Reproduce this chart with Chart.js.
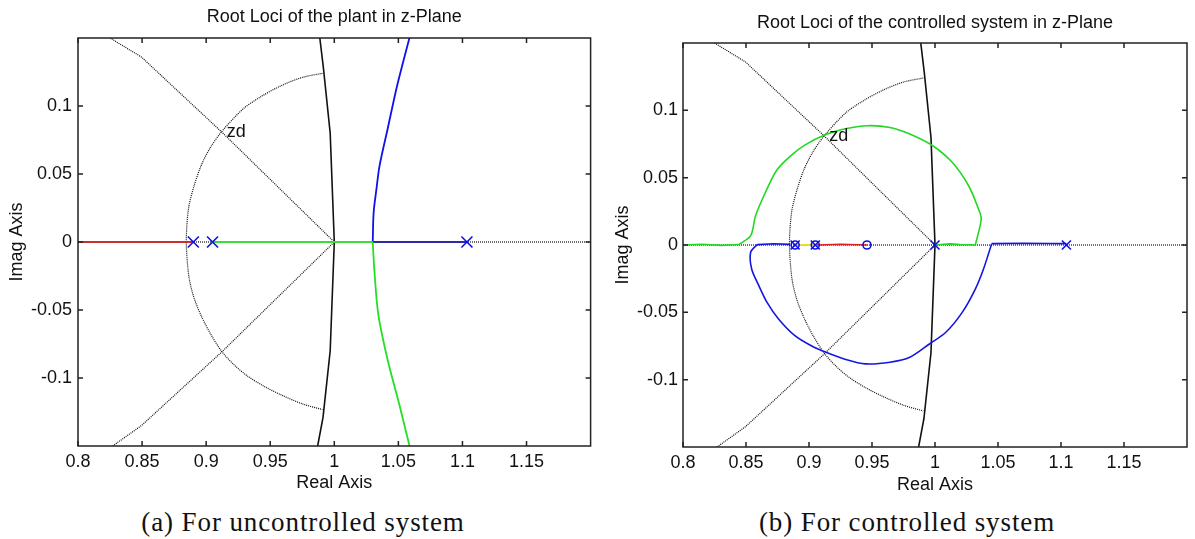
<!DOCTYPE html>
<html>
<head>
<meta charset="utf-8">
<script src="https://cdn.jsdelivr.net/npm/chart.js@4.4.1/dist/chart.umd.min.js"></script>
<style>
  body { margin: 0; background: #fff; width: 1195px; height: 539px; overflow: hidden; position: relative; }
  .box { position: absolute; top: 0; height: 500px; }
  .cap { position: absolute; top: 507px; font: 27px "Liberation Serif", serif; line-height: 31px; letter-spacing: 0.9px; color: #111; white-space: nowrap; transform: translateX(-50%); }
</style>
</head>
<body>
<div class="box" style="left:0;width:600px"><canvas id="c1" width="600" height="500"></canvas></div>
<div class="box" style="left:600px;width:595px"><canvas id="c2" width="595" height="500"></canvas></div>
<div class="cap" style="left:303px">(a) For uncontrolled system</div>
<div class="cap" style="left:907px">(b) For controlled system</div>
<script>
// tick values / labels
const xTicks = [0.8, 0.85, 0.9, 0.95, 1, 1.05, 1.1, 1.15];
const xTickLabels = ['0.8', '0.85', '0.9', '0.95', '1', '1.05', '1.1', '1.15'];
const yTicks = [-0.1, -0.05, 0, 0.05, 0.1];
const yTickLabels = ['-0.1', '-0.05', '0', '0.05', '0.1'];

// z-plane grid (zgrid)
const unitCircle = [[0.9887,0.15],[0.9915,0.128],[0.9968,0.08],[1,0],[0.9968,-0.08],[0.9912,-0.129],[0.987,-0.15]];
const zetaUpper = [[0.825,0.15],[0.8495,0.136],[0.912,0.081],[1,0]];
const zetaLower = [[0.827,-0.15],[0.8495,-0.135],[0.912,-0.081],[1,0]];
const wnArc = [[0.9907,0.124],[0.975,0.121],[0.9587,0.115],[0.943,0.107],[0.929,0.098],[0.912,0.081],[0.903,0.069],
               [0.896,0.056],[0.8905,0.041],[0.8866,0.0267],[0.885,0.013],[0.8845,0],[0.8852,-0.0135],[0.8868,-0.027],
               [0.8905,-0.041],[0.8967,-0.0554],[0.904,-0.0685],[0.9123,-0.0806],[0.922,-0.0905],[0.9322,-0.0985],
               [0.945,-0.106],[0.9587,-0.1125],[0.975,-0.119],[0.9907,-0.1232]];
const realAxis = [[0.8,0],[1.2,0]];
const zdLabel = { text: 'zd', x: 0.916, y: 0.081 };

// (a) plant root locus
const plantRed = [[0.8,0],[0.89,0]];
const plantGreenAxis = [[0.905,0],[1.03,0]];
const plantGreenDown = [[1.03,0],[1.0312,-0.02],[1.0343,-0.053],[1.0417,-0.087],[1.0506,-0.119],[1.0587,-0.15]];
const plantBlueAxis = [[1.03,0],[1.1035,0]];
const plantBlueUp = [[1.03,0],[1.0307,0.0218],[1.0329,0.039],[1.0353,0.056],[1.0417,0.0835],[1.0492,0.1156],[1.0589,0.151]];
const plantPoles = [[0.89,0],[0.905,0],[1.1035,0]];

// (b) controlled system root locus
const ctrlGreenAxisLeft = [[0.8,0],[0.815,0.0006],[0.83,-0.0003],[0.8445,0.0004]];
const ctrlGreenUp = [[0.8445,0.0004],[0.8537,0.0069],[0.8576,0.0218],[0.8654,0.039],[0.8745,0.0557],[0.8862,0.0668],[0.8966,0.0742],
                     [0.9123,0.0817],[0.9279,0.0861],[0.9461,0.0886],[0.9643,0.0873],[0.98,0.0824],[0.9982,0.0737],[1.0138,0.0612],
                     [1.0268,0.0438],[1.0346,0.0265],[1.0367,0.0193],[1.032,0]];
const ctrlGreenAxisRight = [[1.0,0],[1.012,0.0008],[1.02,0.0003],[1.032,0]];
const ctrlBlueAxisLeft = [[0.8849,0.0005],[0.872,0.0009],[0.8589,0.0003]];
const ctrlBlue = [[0.8589,0.0003],[0.8537,-0.0054],[0.8545,-0.0178],[0.8602,-0.0302],[0.8667,-0.0426],
                  [0.8758,-0.0549],[0.8888,-0.0673],[0.9018,-0.0748],[0.9135,-0.0797],[0.9279,-0.0846],[0.9448,-0.0883],[0.9643,-0.0871],
                  [0.98,-0.0834],[0.9956,-0.0735],[1.0086,-0.0648],[1.0216,-0.05],[1.032,-0.0327],[1.0385,-0.0178],[1.045,0.001]];
const ctrlBlueAxisRight = [[1.045,0.001],[1.07,0.0013],[1.09,0.0011],[1.1043,0.001]];
const ctrlYellow = [[0.889,0],[0.905,0]];
const ctrlRed = [[0.907,0],[0.925,0.0006],[0.946,0]];
const ctrlPoles = [[0.889,0],[0.905,0],[1.0,0],[1.1043,0]];
const ctrlZeros = [[0.889,0],[0.905,0],[0.946,0]];

const FONT = '"Liberation Sans", Arial, sans-serif';
const pts = a => a.map(([x, y]) => ({ x, y }));
const line = (d, color, w, dash, t) => ({ data: pts(d), showLine: true, borderColor: color, borderWidth: w || 1.8, borderDash: dash || [], pointRadius: 0, fill: false, tension: t || 0 });
const curve = (d, color, w) => line(d, color, w, null, 0.3);
const dotted = (d, t) => line(d, '#111', 1.2, [1, 1], t);
const marks = (d, style, r) => ({ data: pts(d), showLine: false, pointStyle: style, pointRadius: r, borderColor: '#1010e0', backgroundColor: 'rgba(0,0,0,0)', borderWidth: 1.6 });
const gridSets = () => [line(unitCircle, '#111', 1.6), dotted(zetaUpper), dotted(zetaLower), dotted(wnArc, 0.3), dotted(realAxis)];

const framePlugin = {
  id: 'frame',
  afterDatasetsDraw(chart) {
    const { ctx, chartArea: a, scales: { x, y } } = chart;
    const o = chart.options.plugins.frame;
    ctx.save();
    ctx.strokeStyle = '#222'; ctx.lineWidth = 1.5;
    ctx.strokeRect(a.left, a.top, a.right - a.left, a.bottom - a.top);
    ctx.beginPath();
    xTicks.forEach(v => { const p = x.getPixelForValue(v); ctx.moveTo(p, a.bottom); ctx.lineTo(p, a.bottom - 5); ctx.moveTo(p, a.top); ctx.lineTo(p, a.top + 5); });
    yTicks.forEach(v => { const p = y.getPixelForValue(v); ctx.moveTo(a.left, p); ctx.lineTo(a.left + 5, p); ctx.moveTo(a.right, p); ctx.lineTo(a.right - 5, p); });
    ctx.stroke();
    ctx.fillStyle = '#111'; ctx.font = '18px ' + FONT; ctx.textBaseline = 'middle';
    ctx.textAlign = 'left';
    ctx.fillText(zdLabel.text, x.getPixelForValue(zdLabel.x), y.getPixelForValue(zdLabel.y));
    ctx.textAlign = 'center';
    ctx.fillText(o.title, (a.left + a.right) / 2, a.top - o.titleGap);
    ctx.restore();
  }
};

function makeChart(id, datasets, L) {
  return new Chart(document.getElementById(id), {
    type: 'scatter',
    data: { datasets },
    options: {
      responsive: false, animation: false,
      layout: { padding: { left: 0, right: L.right, top: L.top, bottom: 0 } },
      plugins: { legend: { display: false }, tooltip: { enabled: false }, frame: { title: L.title, titleGap: L.titleGap } },
      scales: {
        x: {
          type: 'linear', min: 0.8, max: 1.2,
          afterBuildTicks: s => { s.ticks = xTicks.map(v => ({ value: v })); },
          afterFit: s => { s.height = L.xh; },
          grid: { display: false, drawTicks: false }, border: { display: false },
          ticks: { padding: 5, color: '#111', font: { size: 18, family: FONT }, maxRotation: 0, autoSkip: false,
                   callback: (v, i) => xTickLabels[i] },
          title: { display: true, text: 'Real Axis', color: '#111', font: { size: 18, family: FONT }, padding: { top: 0, bottom: L.xtb } }
        },
        y: {
          type: 'linear', min: -0.15, max: 0.15,
          afterBuildTicks: s => { s.ticks = yTicks.map(v => ({ value: v })); },
          afterFit: s => { s.width = L.yw; },
          grid: { display: false, drawTicks: false }, border: { display: false },
          ticks: { padding: L.ytp, color: '#111', font: { size: 18, family: FONT }, autoSkip: false,
                   callback: (v, i) => yTickLabels[i] },
          title: { display: true, text: 'Imag Axis', color: '#111', font: { size: 18, family: FONT }, padding: { top: L.ytt, bottom: 0 } }
        }
      }
    },
    plugins: [framePlugin]
  });
}

makeChart('c1', [
  marks(plantPoles, 'crossRot', 7.8),
  line(plantRed, '#c83030'),
  line(plantGreenAxis, '#3ddc3d'),
  curve(plantGreenDown, '#22e022'),
  line(plantBlueAxis, '#2a2aa8'),
  curve(plantBlueUp, '#1010e8'),
  ...gridSets()
], { title: 'Root Loci of the plant in z-Plane', titleGap: 20.5, top: 38, right: 4, xh: 54, xtb: 6.2, yw: 78, ytp: 6, ytt: 6.2 });

makeChart('c2', [
  marks(ctrlPoles, 'crossRot', 6.4),
  marks(ctrlZeros, 'circle', 4),
  line(ctrlYellow, '#f0e020', 1.8),
  line(ctrlRed, '#e02020', 1.6),
  line(ctrlGreenAxisLeft, '#22d822', 1.6),
  curve(ctrlGreenUp, '#22d822', 1.6),
  line(ctrlGreenAxisRight, '#22d822', 1.6),
  line(ctrlBlueAxisLeft, '#1515e0', 1.6),
  curve(ctrlBlue, '#1515e0', 1.6),
  line(ctrlBlueAxisRight, '#1515e0', 1.6),
  ...gridSets()
], { title: 'Root Loci of the controlled system in z-Plane', titleGap: 19.5, top: 43, right: 1, xh: 53, xtb: 4.2, yw: 83, ytp: 5, ytt: 12.2 });
</script>
</body>
</html>
